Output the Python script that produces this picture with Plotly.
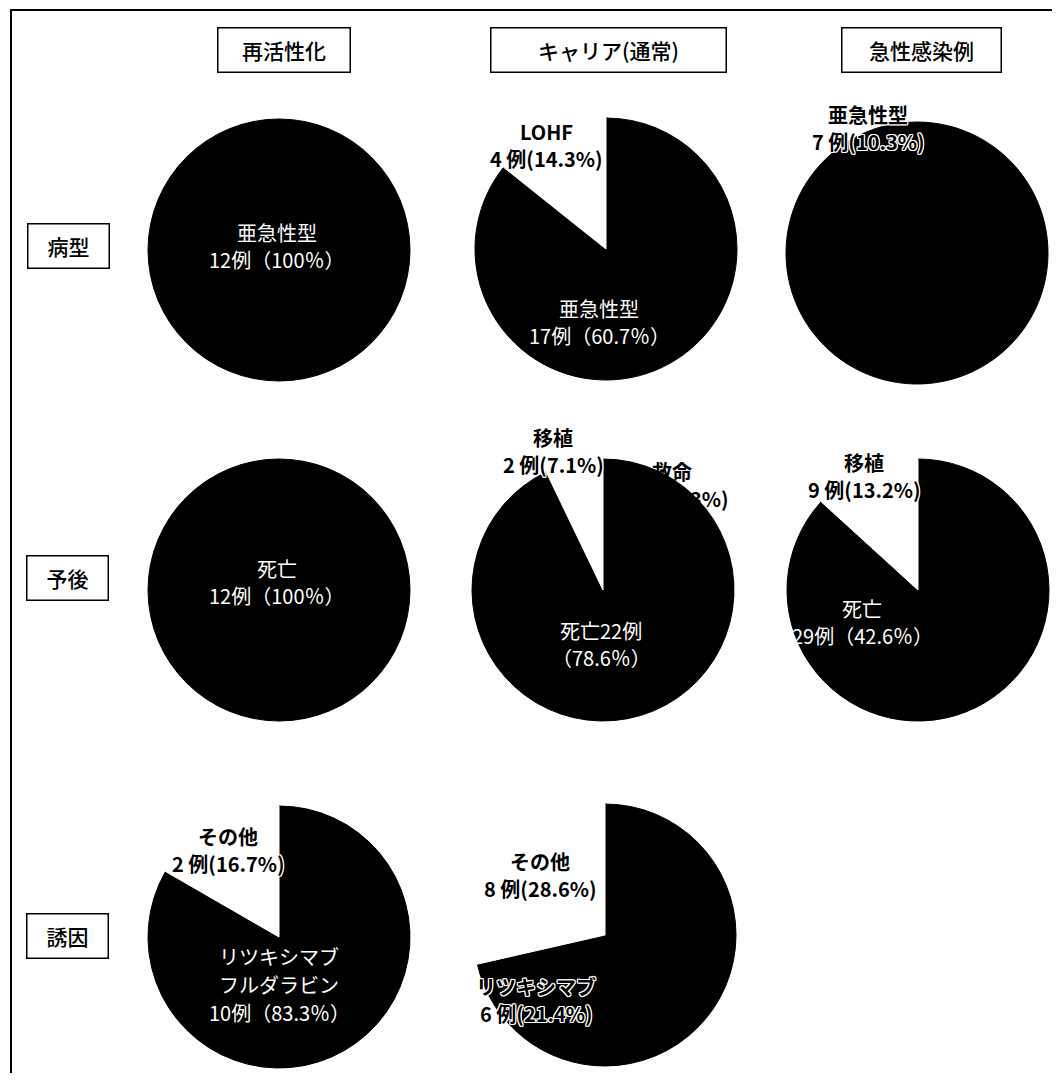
import plotly.graph_objects as go

# page body has an 8px default margin; the figure is laid out in page pixels
OX, OY = 8, 8
W, H = 1052, 1065

# ---------------- data ----------------
col_titles = ["再活性化", "キャリア(通常)", "急性感染例"]
row_titles = ["病型", "予後", "誘因"]

# slices listed counterclockwise from 12 o'clock (cases)
p1_labels = ["亜急性型"]
p1_values = [12]
p2_labels = ["LOHF", "亜急性型", "急性型"]
p2_values = [4, 17, 7]
p3_labels = ["亜急性型", "急性型"]
p3_values = [7, 61]
p4_labels = ["死亡"]
p4_values = [12]
p5_labels = ["移植", "死亡", "救命"]
p5_values = [2, 22, 4]
p6_labels = ["移植", "死亡", "救命"]
p6_values = [9, 29, 30]
p7_labels = ["その他", "リツキシマブ フルダラビン"]
p7_values = [2, 10]
p8_labels = ["その他", "リツキシマブ", "その他の薬剤"]
p8_values = [8, 6, 14]

# ---------------- styling / layout ----------------
FONT = "Noto Sans CJK JP"
R = 131
LINE = 28


def px(x):
    return (x - OX) / W


def py(y):
    return 1 - (y - OY) / H


pies = [
    # labels, values, colors, centre (page px from top-left)
    (p1_labels, p1_values, ["black"], (279, 250)),
    (p2_labels, p2_values, ["white", "black", "black"], (606, 249)),
    (p3_labels, p3_values, ["black", "black"], (917, 253)),
    (p4_labels, p4_values, ["black"], (279, 590)),
    (p5_labels, p5_values, ["white", "black", "black"], (603, 590)),
    (p6_labels, p6_values, ["white", "black", "black"], (918, 590)),
    (p7_labels, p7_values, ["white", "black"], (279, 937)),
    (p8_labels, p8_values, ["white", "black", "black"], (605, 935)),
]


def pct(v, vals):
    p = v / sum(vals) * 100
    return "100" if abs(p - 100) < 1e-9 else f"{p:.1f}"


fig = go.Figure()
for labels, values, colors, (cx, cy) in pies:
    # drawn clockwise from 12 o'clock in reverse order == counterclockwise order
    fig.add_trace(go.Pie(
        labels=labels[::-1], values=values[::-1], sort=False,
        direction="clockwise", rotation=0, textinfo="none",
        hoverinfo="label+value+percent",
        marker=dict(colors=colors[::-1],
                    line=dict(width=1, color=colors[::-1])),
        domain=dict(x=[px(cx - R), px(cx + R)], y=[py(cy + R), py(cy - R)]),
        showlegend=False,
    ))

# slice labels: (pie index, slice index, style, centre px, kind)
label_specs = [
    (0, 0, "white", (277, 246), "two"),
    (1, 0, "bold", (546, 145), "two"),
    (1, 1, "white", (599, 322), "two"),
    (2, 0, "outline", (868, 128), "two"),
    (3, 0, "white", (277, 582), "two"),
    (4, 0, "bold", (553, 451), "two"),
    (4, 2, "hidden", (672, 485), "two"),
    (4, 1, "white", (601, 644), "split"),
    (5, 0, "bold", (864, 476), "two"),
    (5, 1, "white", (862, 622), "two"),
    (6, 0, "bold", (228, 850), "two"),
    (6, 1, "white", (279, 984), "two"),
    (7, 0, "bold", (540, 875), "two"),
    (7, 1, "outline", (536, 1000), "two"),
]

outline = ("-1px -1px 0 #fff, 1px -1px 0 #fff, -1px 1px 0 #fff, 1px 1px 0 #fff, "
           "0 1px 0 #fff, 0 -1px 0 #fff, 1px 0 0 #fff, -1px 0 0 #fff")

annotations = []
for pi, si, style, (x, y), kind in label_specs:
    labels, values = pies[pi][0], pies[pi][1]
    name_lines = labels[si].split(" ")
    n = values[si]
    p = pct(n, values)
    if style == "white":
        if kind == "split":
            lines = [f"{name_lines[0]}{n}例", f"（{p}％）"]
        else:
            lines = name_lines + [f"{n}例（{p}％）"]
        font = dict(family=FONT, size=20, color="white", weight=400)
    else:
        lines = name_lines + [f"{n} 例({p}%)"]
        font = dict(family=FONT, size=20, color="black", weight=700)
        if style in ("outline", "bold"):
            font["shadow"] = outline
    k = len(lines)
    step = 27 if k < 3 else LINE
    for i, line in enumerate(lines):
        yy = y + (i - (k - 1) / 2) * step
        annotations.append(dict(
            x=px(x), y=py(yy), xref="paper", yref="paper", text=line,
            showarrow=False, xanchor="center", yanchor="middle", align="center",
            font=font,
        ))

# header boxes
col_boxes = [(283.5, 50, 133), (608, 50, 236), (921, 50, 160)]
row_boxes = [(68, 246, 82), (67.5, 577.5, 82), (67, 935.5, 82)]
for t, (x, y, w) in list(zip(col_titles, col_boxes)) + list(zip(row_titles, row_boxes)):
    annotations.append(dict(
        x=px(x), y=py(y), xref="paper", yref="paper", text=t,
        showarrow=False, xanchor="center", yanchor="middle",
        width=w - 2, height=43, bgcolor="white", bordercolor="black",
        borderwidth=1.5, borderpad=0,
        font=dict(family=FONT, size=21, color="black", weight=500),
    ))

# outer frame (left and top edges visible; extends past page)
shapes = [dict(type="rect", xref="paper", yref="paper",
               x0=px(11), x1=1.05, y0=-0.05, y1=py(10),
               line=dict(color="black", width=2), fillcolor="rgba(0,0,0,0)",
               layer="below")]

fig.update_layout(
    width=W, height=H, margin=dict(l=0, r=0, t=0, b=0),
    paper_bgcolor="white", plot_bgcolor="white",
    annotations=annotations, shapes=shapes, showlegend=False,
    font=dict(family=FONT),
)

fig.write_html("out.html")
